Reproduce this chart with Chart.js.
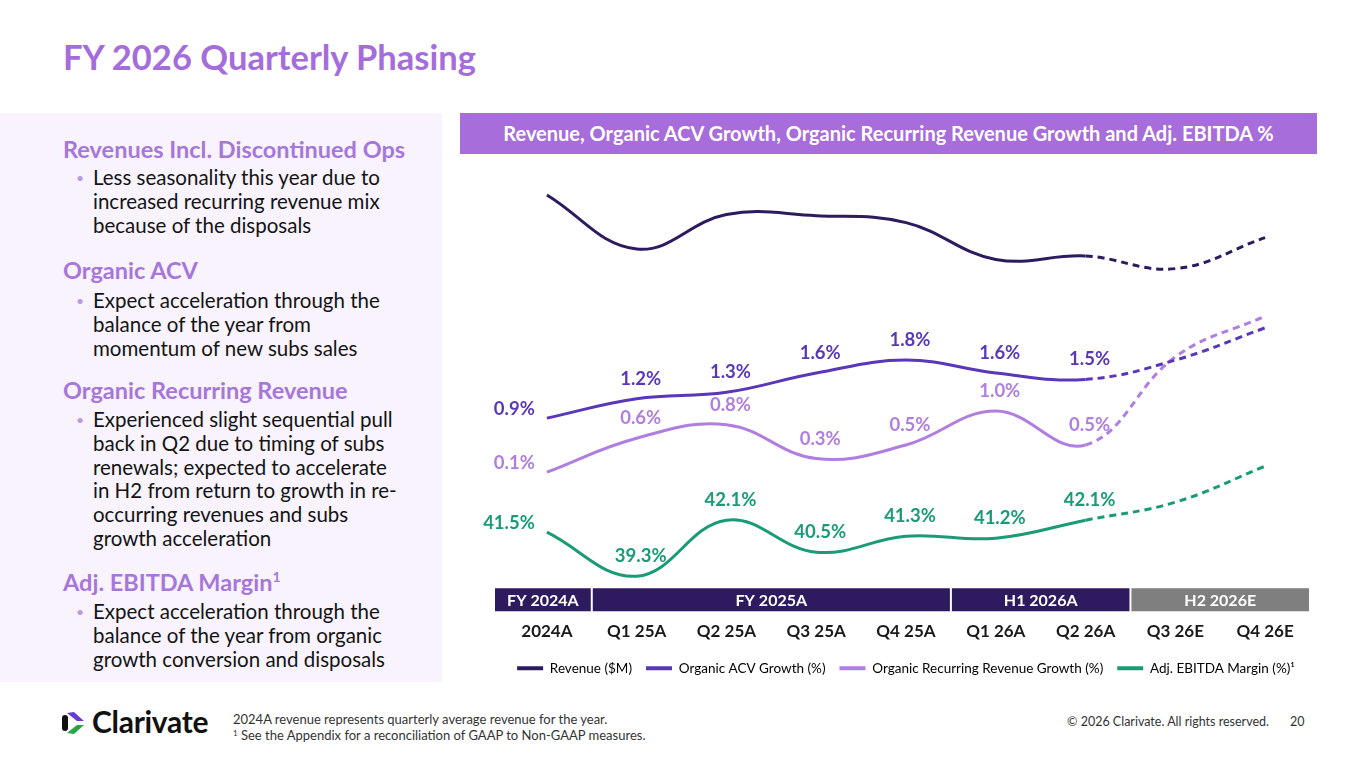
<!DOCTYPE html>
<html>
<head>
<meta charset="utf-8">
<script src="https://cdn.jsdelivr.net/npm/chart.js@4.4.1/dist/chart.umd.min.js"></script>
<style>
  body { margin:0; width:1365px; height:768px; overflow:hidden; background:#fff; font-family: Lato, "Noto Sans", sans-serif; position:relative; }
  .abs { position:absolute; }
  #title { left:63px; top:38px; font-size:34.5px; line-height:38px; font-weight:700; color:#a56ddb; white-space:nowrap; }
  #panel { left:0; top:113px; width:442px; height:569px; background:#f8f3fc; }
  .hd { position:absolute; left:63px; font-size:23.5px; line-height:26px; font-weight:700; color:#a677da; white-space:nowrap; }
  .hd sup { font-size:14px; line-height:0; }
  .bl { position:absolute; left:93px; font-size:20.5px; line-height:23.8px; color:#141414; white-space:nowrap; }
  .bl::before { content:'\2022'; position:absolute; left:-17px; top:0; color:#b99be3; font-size:14px; }
  #bar { left:460px; top:113px; width:857px; height:41px; background:#a66ddb; color:#fff; font-weight:700; font-size:20px; line-height:41px; text-align:center; white-space:nowrap; }
  #chartBox { left:460px; top:160px; width:880px; height:530px; }
  #brand { left:92px; top:705px; font-size:30px; line-height:32px; font-weight:700; color:#111; letter-spacing:-0.3px; }
  #notes { left:233px; top:711px; font-size:13px; line-height:16px; color:#333; white-space:nowrap; }
  #notes sup { font-size:8px; line-height:0; vertical-align:4px; }
  #copy { left:1040px; top:714px; width:229px; text-align:right; font-size:12.5px; line-height:16px; color:#333; white-space:nowrap; }
  #page { left:1290px; top:714px; font-size:12.5px; line-height:16px; color:#333; }
</style>
</head>
<body>
<div id="title" class="abs">FY 2026 Quarterly Phasing</div>

<div id="panel" class="abs"></div>
<div class="hd" style="top:136px">Revenues Incl. Discontinued Ops</div>
<div class="bl" style="top:166px">Less seasonality this year due to<br>increased recurring revenue mix<br>because of the disposals</div>
<div class="hd" style="top:257px">Organic ACV</div>
<div class="bl" style="top:289px">Expect acceleration through the<br>balance of the year from<br>momentum of new subs sales</div>
<div class="hd" style="top:377px">Organic Recurring Revenue</div>
<div class="bl" style="top:408px">Experienced slight sequential pull<br>back in Q2 due to timing of subs<br>renewals; expected to accelerate<br>in H2 from return to growth in re-<br>occurring revenues and subs<br>growth acceleration</div>
<div class="hd" style="top:569px">Adj. EBITDA Margin<sup>1</sup></div>
<div class="bl" style="top:600px">Expect acceleration through the<br>balance of the year from organic<br>growth conversion and disposals</div>

<div id="bar" class="abs">Revenue, Organic ACV Growth, Organic Recurring Revenue Growth and Adj. EBITDA %</div>
<div id="chartBox" class="abs"><canvas id="chart"></canvas></div>

<svg class="abs" style="left:62px;top:710px" width="26" height="26" viewBox="0 0 26 26">
  <path d="M3 8 L3 18" stroke="#111" stroke-width="6" stroke-linecap="round"/>
  <path d="M5 3 L12 2 L22 11 L15 11 Z" fill="#6a3bd0"/>
  <path d="M5 23 L12 24 L22 15 L15 15 Z" fill="#2aa44a"/>
</svg>
<div id="brand" class="abs">Clarivate</div>
<div id="notes" class="abs">2024A revenue represents quarterly average revenue for the year.<br><sup>1</sup> See the Appendix for a reconciliation of GAAP to Non-GAAP measures.</div>
<div id="copy" class="abs">© 2026 Clarivate. All rights reserved.</div>
<div id="page" class="abs">20</div>

<script>
const categories = ['2024A', 'Q1 25A', 'Q2 25A', 'Q3 25A', 'Q4 25A', 'Q1 26A', 'Q2 26A', 'Q3 26E', 'Q4 26E'];
const revenue = [640, 593, 623, 622, 616, 584, 587, 576, 603];
const acvGrowth = [0.9, 1.2, 1.3, 1.6, 1.8, 1.6, 1.5, 1.8, 2.3];
const recurringGrowth = [0.1, 0.6, 0.8, 0.3, 0.5, 1.0, 0.5, 1.8, 2.4];
const ebitdaMargin = [41.5, 39.3, 42.1, 40.5, 41.3, 41.2, 42.1, 43.0, 44.8];

const periodLabels = ['FY 2024A', 'FY 2025A', 'H1 2026A', 'H2 2026E'];
const periodFirst = [0, 1, 5, 7];
const periodLast = [0, 4, 6, 8];
const periodColors = ['#2e1a5e', '#2e1a5e', '#2e1a5e', '#7f7f7f'];

const lastActual = 6;  // Q2 26A, after this the lines are dashed

Chart.defaults.font.family = 'Lato';

const dashed = ctx => ctx.p0DataIndex >= lastActual ? [7, 5] : undefined;

// value labels above the actual points
const valueLabels = {
  id: 'valueLabels',
  afterDatasetsDraw(chart) {
    const ctx = chart.ctx;
    ctx.save();
    ctx.font = 'bold 18.5px Lato';
    ctx.textBaseline = 'middle';
    chart.data.datasets.forEach((ds, di) => {
      if (!ds.showValues) return;
      chart.getDatasetMeta(di).data.forEach((pt, i) => {
        if (i > lastActual) return;
        ctx.fillStyle = ds.borderColor;
        const txt = ds.data[i].toFixed(1) + '%';
        if (i === 0) {
          ctx.textAlign = 'right';
          ctx.fillText(txt, pt.x - 12, pt.y - 9);
        } else {
          ctx.textAlign = 'center';
          ctx.fillText(txt, pt.x + 4, pt.y - 20);
        }
      });
    });
    ctx.restore();
  }
};

// the FY / H1 / H2 strip under the plot
const periodBands = {
  id: 'periodBands',
  afterDraw(chart) {
    const {ctx, chartArea, scales} = chart;
    const x = scales.x;
    const half = (x.getPixelForValue(1) - x.getPixelForValue(0)) / 2;
    const top = chartArea.bottom + 2, h = 23;
    ctx.save();
    ctx.font = 'bold 16px Lato';
    ctx.textAlign = 'center';
    ctx.textBaseline = 'middle';
    periodLabels.forEach((label, i) => {
      const x0 = x.getPixelForValue(periodFirst[i]) - half - (i === 0 ? 8 : 0);
      const x1 = x.getPixelForValue(periodLast[i]) + half;
      ctx.fillStyle = periodColors[i];
      ctx.fillRect(x0 + 1, top, x1 - x0 - 2, h);
      ctx.fillStyle = '#fff';
      ctx.fillText(label, (x0 + x1) / 2, top + h / 2 + 1);
    });
    ctx.restore();
  }
};

new Chart(document.getElementById('chart'), {
  type: 'line',
  data: {
    labels: categories,
    datasets: [
      { label: 'Revenue ($M)', data: revenue, yAxisID: 'yRev', borderColor: '#2e1a5e' },
      { label: 'Organic ACV Growth (%)', data: acvGrowth, yAxisID: 'yAcv', borderColor: '#5a37b8', showValues: true },
      { label: 'Organic Recurring Revenue Growth (%)', data: recurringGrowth, yAxisID: 'yOrr', borderColor: '#b07ee0', showValues: true },
      { label: 'Adj. EBITDA Margin (%)\u00b9', data: ebitdaMargin, yAxisID: 'yEbit', borderColor: '#1a9b78', showValues: true }
    ].map(ds => Object.assign(ds, {
      borderWidth: 3,
      tension: 0.4,
      pointRadius: 0,
      fill: false,
      segment: { borderDash: dashed }
    }))
  },
  options: {
    responsive: true,
    maintainAspectRatio: false,
    animation: false,
    layout: { padding: { left: 42, right: 30, top: 10, bottom: 5 } },
    scales: {
      x: {
        offset: true,
        grid: { display: false, drawTicks: false },
        border: { display: false },
        ticks: { color: '#1a1a1a', font: { size: 17, weight: 'bold' }, padding: 35 },
        afterFit: s => { s.height = 61.25; }
      },
      yRev: { display: false, min: 300, max: 661.7 },
      yAcv: { display: false, min: -1.707, max: 4.748 },
      yOrr: { display: false, min: -1.582, max: 4.554 },
      yEbit: { display: false, min: 38.8, max: 59.6 }
    },
    plugins: {
      tooltip: { enabled: false },
      legend: {
        position: 'bottom',
        labels: {
          boxWidth: 26,
          boxHeight: 4,
          padding: 14,
          color: '#333',
          font: { size: 13.5 },
          generateLabels: chart => chart.data.datasets.map((ds, i) => ({
            text: ds.label,
            fillStyle: ds.borderColor,
            strokeStyle: ds.borderColor,
            lineWidth: 0,
            hidden: false,
            datasetIndex: i
          }))
        }
      }
    }
  },
  plugins: [valueLabels, periodBands]
});
</script>
</body>
</html>
